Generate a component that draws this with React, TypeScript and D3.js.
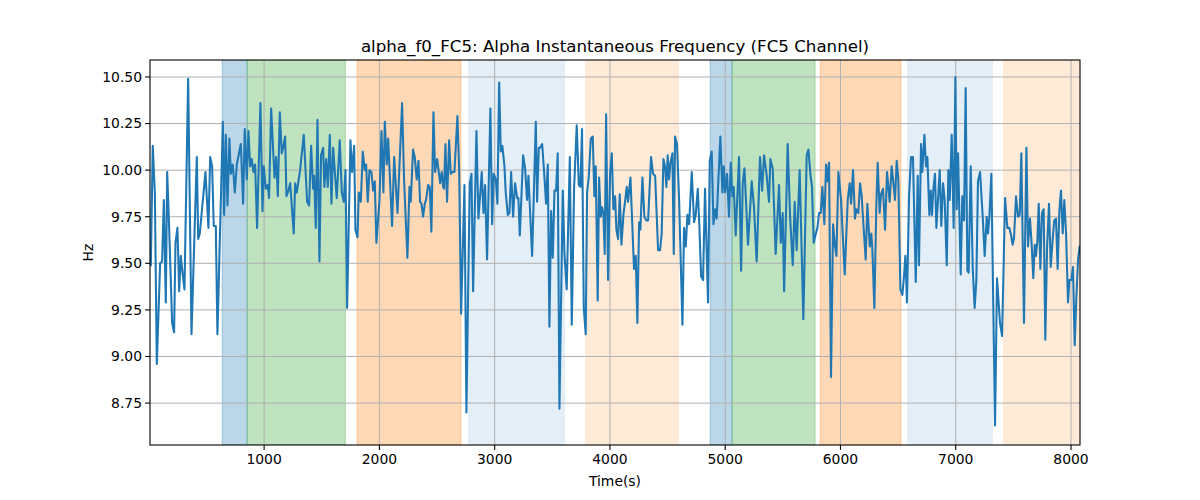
import React from "react";
import * as d3 from "d3";

const times: number[] = [
  17, 34, 52, 69, 98, 115, 130, 147, 159, 173, 202, 219, 231, 248, 263, 277, 292, 309, 341, 370, 416, 428, 442, 491, 517, 532, 549, 563, 581, 595, 642, 653, 668, 682, 699, 711, 728, 746, 763, 798, 818, 832, 850,
  864, 879, 893, 908, 922, 939, 968, 986, 997, 1015, 1032, 1043, 1061, 1090, 1104, 1119, 1136, 1153, 1165, 1182, 1194, 1211, 1226, 1257, 1269, 1283, 1312, 1344, 1373, 1390, 1408, 1425, 1434, 1448, 1463, 1480, 1494, 1512, 1523, 1538, 1552, 1570, 1584, 1599, 1616, 1630, 1656, 1674, 1691,
  1706, 1720, 1749, 1763, 1781, 1792, 1810, 1821, 1839, 1856, 1873, 1885, 1899, 1914, 1931, 1946, 1960, 1974, 2001, 2018, 2035, 2047, 2064, 2076, 2110, 2128, 2157, 2197, 2214, 2243, 2261, 2272, 2292, 2307, 2324, 2339, 2353, 2365, 2379, 2394, 2405, 2423, 2437, 2451, 2469, 2483, 2501, 2527, 2541,
  2553, 2561, 2573, 2587, 2605, 2619, 2634, 2651, 2677, 2692, 2709, 2738, 2755, 2773, 2784, 2799, 2813, 2842, 2859, 2877, 2888, 2903, 2917, 2934, 2963, 2978, 2992, 3010, 3024, 3039, 3053, 3067, 3085, 3096, 3114, 3128, 3143, 3160, 3177, 3195, 3206, 3218, 3247, 3264, 3281, 3293, 3325, 3357, 3368, 3383,
  3394, 3412, 3429, 3446, 3461, 3475, 3490, 3504, 3519, 3533, 3547, 3562, 3591, 3605, 3625, 3652, 3669, 3689, 3712, 3730, 3744, 3758, 3773, 3790, 3802, 3816, 3834, 3851, 3865, 3877, 3894, 3906, 3920, 3932, 3943, 3955, 3967, 3984, 4001, 4016, 4030, 4045, 4056, 4071, 4085, 4100, 4117, 4131, 4146, 4157, 4178, 4209, 4224,
  4238, 4253, 4264, 4282, 4299, 4316, 4331, 4357, 4374, 4392, 4418, 4435, 4449, 4464, 4478, 4490, 4501, 4513, 4525, 4542, 4554, 4565, 4582, 4600, 4629, 4643, 4658, 4672, 4687, 4710, 4730, 4744, 4762, 4776, 4791, 4808, 4825, 4851, 4866, 4883, 4898, 4912, 4926, 4941, 4958, 4976, 4987, 4999, 5016, 5033, 5048, 5062,
  5074, 5091, 5120, 5138, 5152, 5167, 5198, 5230, 5250, 5273, 5302, 5320, 5337, 5360, 5380, 5392, 5412, 5438, 5467, 5482, 5499, 5511, 5542, 5563, 5586, 5603, 5620, 5646, 5678, 5707, 5722, 5739, 5753, 5768, 5782, 5800, 5814, 5829, 5843, 5860, 5875, 5886, 5901,
  5918, 5936, 5953, 5965, 5982, 6005, 6037, 6063, 6080, 6092, 6109, 6126, 6138, 6155, 6170, 6184, 6202, 6219, 6233, 6254, 6268, 6277, 6294, 6311, 6323, 6340, 6352, 6369, 6387, 6404, 6427, 6444, 6456, 6473, 6488, 6502, 6520, 6537, 6551, 6563, 6577, 6595, 6612, 6629, 6653, 6670, 6681, 6699, 6710, 6728, 6742,
  6754, 6771, 6783, 6794, 6806, 6820, 6832, 6846, 6861, 6875, 6890, 6904, 6922, 6936, 6948, 6965, 6982, 6997, 7008, 7020, 7043, 7057, 7072, 7086, 7101, 7112, 7130, 7147, 7164, 7179, 7193, 7211, 7234, 7251, 7269, 7280, 7292, 7309, 7341, 7358, 7384, 7402, 7428, 7448, 7465, 7477, 7494, 7506, 7523, 7540, 7555, 7569, 7592,
  7613, 7627, 7644, 7656, 7673, 7685, 7696, 7708, 7720, 7734, 7748, 7763, 7777, 7792, 7809, 7824, 7841, 7855, 7870, 7884, 7899, 7913, 7928, 7942, 7957, 7974, 7986, 8003, 8017, 8032, 8046, 8061, 8075,
];

const freqs: number[] = [
  9.49, 10.13, 9.88, 8.96, 9.50, 9.51, 9.84, 9.29, 9.99, 9.75, 9.18, 9.13, 9.61, 9.69, 9.35, 9.54, 9.45, 9.36, 10.49, 9.12, 10.07, 9.63, 9.66, 9.99, 9.69, 10.07, 10.02, 9.70, 9.70, 9.12, 10.26, 9.76, 10.19, 9.81, 10.17, 9.98, 10.03, 9.88, 10.03, 10.14, 9.82, 10.22, 9.95,
  10.21, 10.02, 10.06, 9.99, 10.03, 9.69, 10.36, 9.78, 10.02, 9.90, 9.92, 9.85, 10.33, 9.96, 10.07, 9.86, 10.31, 10.09, 10.12, 10.18, 9.86, 9.89, 9.93, 9.66, 9.93, 9.88, 10.00, 10.19, 9.83, 9.81, 10.13, 9.90, 9.97, 9.69, 10.27, 9.51, 10.08, 10.12, 9.91, 10.06, 9.91, 10.19, 9.82, 10.12, 9.97, 9.85, 10.16, 9.88, 9.83,
  10.00, 9.26, 10.16, 9.99, 10.13, 9.68, 9.64, 9.88, 9.83, 10.10, 10.00, 10.03, 9.83, 10.00, 9.99, 9.89, 9.94, 9.61, 9.84, 10.21, 9.88, 10.26, 10.03, 10.17, 9.70, 10.07, 9.77, 10.36, 9.95, 9.53, 9.91, 9.83, 10.11, 10.07, 9.95, 10.05, 9.83, 9.82, 9.75, 9.82, 9.84, 9.92, 9.91, 9.67, 10.31, 9.99, 10.06, 9.93, 9.99,
  9.91, 9.90, 10.14, 9.83, 10.16, 9.98, 9.99, 9.99, 10.29, 10.00, 9.23, 9.92, 8.70, 9.49, 9.93, 9.98, 9.35, 10.21, 9.74, 9.89, 9.99, 9.77, 9.92, 9.52, 10.33, 9.71, 9.98, 9.95, 9.82, 10.47, 10.10, 10.13, 10.02, 9.88, 9.76, 9.77, 9.99, 9.75, 9.93, 9.85, 9.85, 9.65, 10.08, 10.01, 9.84, 9.97, 9.54, 10.26, 9.83, 10.12,
  10.12, 10.14, 9.99, 9.82, 10.03, 9.16, 9.78, 9.53, 9.89, 9.89, 10.09, 8.72, 9.89, 9.56, 9.36, 10.07, 9.17, 9.90, 10.24, 9.92, 9.91, 10.22, 9.26, 9.12, 9.88, 9.96, 10.17, 10.18, 9.86, 10.02, 9.30, 9.96, 9.75, 9.80, 9.77, 9.55, 10.30, 9.41, 9.98, 10.09, 9.79, 9.86, 9.68, 9.63, 9.87, 9.60, 9.76, 9.83, 9.91, 9.83, 9.96, 9.47, 9.54,
  9.18, 9.72, 9.68, 9.96, 9.75, 9.73, 9.73, 10.07, 9.98, 9.97, 9.57, 9.57, 9.66, 10.06, 10.02, 9.91, 10.08, 9.95, 10.04, 10.09, 9.55, 10.18, 10.14, 9.84, 9.17, 9.69, 9.59, 9.76, 9.71, 9.99, 9.72, 9.76, 9.90, 9.70, 9.43, 9.41, 9.90, 9.29, 10.05, 10.10, 9.71, 9.79, 9.74, 9.95, 10.18, 9.88, 10.02, 9.88, 9.98, 9.75, 10.04, 9.86,
  9.91, 9.65, 10.07, 9.46, 9.93, 10.01, 9.60, 9.94, 9.80, 9.51, 10.07, 9.89, 10.08, 9.97, 9.83, 10.06, 10.01, 9.55, 9.92, 9.61, 9.77, 9.35, 10.14, 9.75, 9.49, 9.83, 9.57, 10.00, 9.20, 10.08, 10.11, 9.98, 9.91, 9.61, 9.65, 9.69, 9.77, 9.77, 9.91, 9.71, 10.03, 9.94, 10.04,
  8.89, 9.71, 9.59, 9.54, 9.99, 9.84, 9.44, 9.84, 9.93, 9.82, 10.00, 9.74, 9.79, 9.77, 9.93, 9.86, 9.68, 9.52, 9.82, 9.59, 9.66, 9.57, 9.26, 9.81, 10.04, 9.77, 9.87, 9.90, 9.68, 9.99, 9.83, 10.02, 9.95, 9.84, 10.05, 9.95, 9.36, 9.33, 9.43, 9.54, 9.29, 9.86, 10.07, 10.07, 9.40, 9.97, 9.49, 10.14, 9.99, 10.19, 10.02,
  10.07, 9.76, 9.89, 9.76, 9.90, 9.98, 9.69, 9.84, 10.00, 9.70, 9.93, 9.84, 9.49, 10.00, 9.84, 10.19, 9.69, 10.50, 9.79, 10.09, 9.44, 9.86, 9.73, 10.44, 9.46, 9.45, 10.02, 9.48, 9.26, 9.41, 9.94, 9.99, 9.75, 9.54, 9.75, 9.66, 9.75, 9.98, 8.63, 9.42, 9.18, 9.11, 9.85, 9.69, 9.69, 9.66, 9.60, 9.64, 9.86, 9.75, 9.76, 10.09, 9.18,
  10.12, 9.59, 9.74, 9.63, 9.42, 9.60, 9.54, 9.62, 9.82, 9.47, 9.77, 9.79, 9.09, 9.58, 9.82, 9.48, 9.63, 9.73, 9.74, 9.47, 9.78, 9.89, 9.66, 9.84, 9.66, 9.29, 9.41, 9.41, 9.48, 9.06, 9.31, 9.52, 9.59,
];

const spanStarts: number[] = [636, 853, 1806, 2769, 3785, 4869, 5060, 5823, 6577, 7410];
const spanEnds: number[] = [853, 1705, 2708, 3611, 4600, 5060, 5780, 6525, 7323, 8120];
const spanKinds: string[] = ["blue", "green", "orange", "lightblue", "lightorange", "blue", "green", "orange", "lightblue", "lightorange"];

const xTicks: number[] = [1000, 2000, 3000, 4000, 5000, 6000, 7000, 8000];
const yTicks: number[] = [8.75, 9.0, 9.25, 9.5, 9.75, 10.0, 10.25, 10.5];

const kindStyle: Record<string, { color: string; opacity: number; edge: boolean }> = {
  blue: { color: "#1f77b4", opacity: 0.3, edge: true },
  green: { color: "#2ca02c", opacity: 0.3, edge: true },
  orange: { color: "#ff7f0e", opacity: 0.3, edge: true },
  lightblue: { color: "#1f77b4", opacity: 0.12, edge: false },
  lightorange: { color: "#ff7f0e", opacity: 0.16, edge: false },
};

const W = 1200;
const H = 500;
const M = { left: 150, right: 1080, top: 60, bottom: 445 };
const FONT = "DejaVu Sans, sans-serif";

export default function App() {
  const x = d3.scaleLinear().domain([10, 8078]).range([M.left, M.right]);
  const y = d3.scaleLinear().domain([8.525, 10.591]).range([M.bottom, M.top]);
  const pts: [number, number][] = times.map((t, i) => [t, freqs[i]]);
  const line = d3
    .line<[number, number]>()
    .x((d) => x(d[0]))
    .y((d) => y(d[1]));

  return (
    <svg
      width={W}
      height={H}
      style={{ position: "absolute", left: 0, top: 0, background: "#fff" }}
      fontFamily={FONT}
    >
      <defs>
        <clipPath id="plot">
          <rect x={M.left} y={M.top} width={M.right - M.left} height={M.bottom - M.top} />
        </clipPath>
      </defs>
      <rect x={0} y={0} width={W} height={H} fill="#fff" />
      <g clipPath="url(#plot)">
        {spanStarts.map((s, i) => {
          const st = kindStyle[spanKinds[i]];
          const x0 = x(s);
          const x1 = x(spanEnds[i]);
          return (
            <rect
              key={i}
              x={x0}
              y={M.top}
              width={x1 - x0}
              height={M.bottom - M.top}
              fill={st.color}
              fillOpacity={st.opacity}
              stroke={st.edge ? st.color : "none"}
              strokeOpacity={st.opacity}
              strokeWidth={1}
            />
          );
        })}
        {xTicks.map((t) => (
          <line key={"gx" + t} x1={x(t)} x2={x(t)} y1={M.top} y2={M.bottom} stroke="#b0b0b0" strokeWidth={1} />
        ))}
        {yTicks.map((t) => (
          <line key={"gy" + t} x1={M.left} x2={M.right} y1={y(t)} y2={y(t)} stroke="#b0b0b0" strokeWidth={1} />
        ))}
        <path d={line(pts) || ""} fill="none" stroke="#1f77b4" strokeWidth={2.08} strokeLinejoin="round" strokeLinecap="square" />
      </g>
      <rect
        x={M.left}
        y={M.top}
        width={M.right - M.left}
        height={M.bottom - M.top}
        fill="none"
        stroke="#000"
        strokeWidth={1.1}
      />
      {xTicks.map((t) => (
        <g key={"xt" + t}>
          <line x1={x(t)} x2={x(t)} y1={M.bottom} y2={M.bottom + 4.9} stroke="#000" strokeWidth={1.1} />
          <text x={x(t)} y={M.bottom + 19} textAnchor="middle" fontSize={13.9} fill="#000">
            {t}
          </text>
        </g>
      ))}
      {yTicks.map((t) => (
        <g key={"yt" + t}>
          <line x1={M.left - 4.9} x2={M.left} y1={y(t)} y2={y(t)} stroke="#000" strokeWidth={1.1} />
          <text x={M.left - 8} y={y(t)} dy="0.35em" textAnchor="end" fontSize={13.9} fill="#000">
            {t.toFixed(2)}
          </text>
        </g>
      ))}
      <text x={(M.left + M.right) / 2} y={486} textAnchor="middle" fontSize={13.9} fill="#000">
        Time(s)
      </text>
      <text
        x={0}
        y={0}
        transform={`translate(93,${(M.top + M.bottom) / 2}) rotate(-90)`}
        textAnchor="middle"
        fontSize={13.9}
        fill="#000"
      >
        Hz
      </text>
      <text x={(M.left + M.right) / 2} y={52} textAnchor="middle" fontSize={16.67} fill="#000">
        alpha_f0_FC5: Alpha Instantaneous Frequency (FC5 Channel)
      </text>
    </svg>
  );
}
